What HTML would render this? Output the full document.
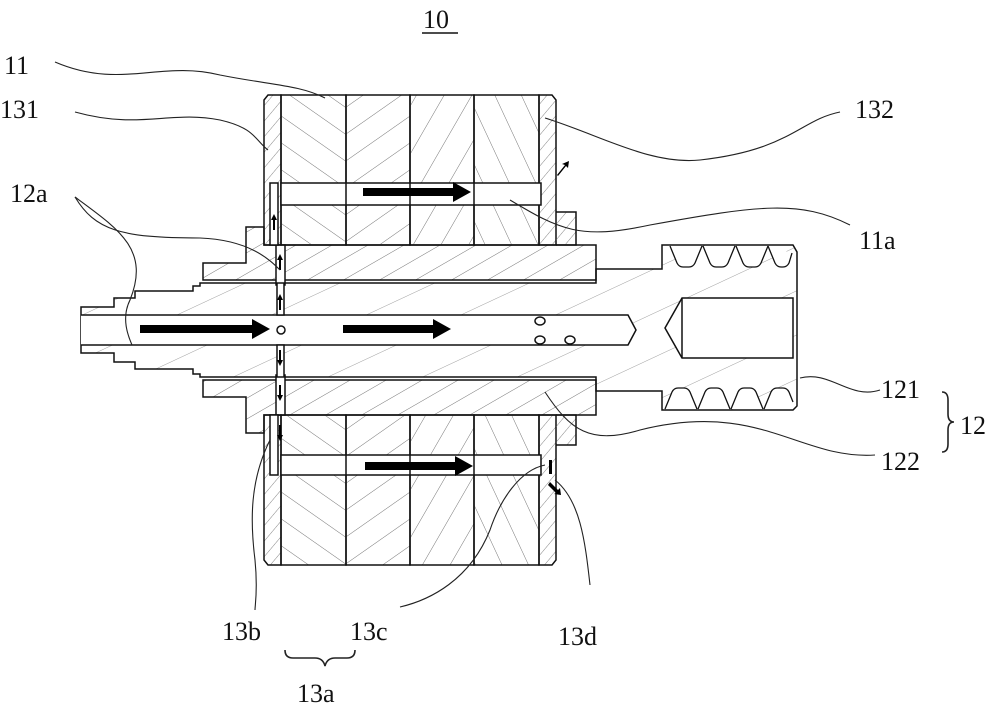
<!DOCTYPE html>
<html><head><meta charset="utf-8"><style>
html,body{margin:0;padding:0;background:#fff;}
svg{display:block}
text{font-family:"Liberation Serif",serif;fill:#111;}
</style></head><body>
<svg width="1000" height="715" viewBox="0 0 1000 715" xmlns="http://www.w3.org/2000/svg">
<defs>
<pattern id="h1" patternUnits="userSpaceOnUse" width="22" height="22" patternTransform="rotate(-55)"><line x1="0" y1="0" x2="0" y2="22" stroke="#666" stroke-width="0.9"/></pattern>
<pattern id="h2" patternUnits="userSpaceOnUse" width="22" height="22" patternTransform="rotate(55)"><line x1="0" y1="0" x2="0" y2="22" stroke="#666" stroke-width="0.9"/></pattern>
<pattern id="h3" patternUnits="userSpaceOnUse" width="24" height="24" patternTransform="rotate(30)"><line x1="0" y1="0" x2="0" y2="24" stroke="#666" stroke-width="0.9"/></pattern>
<pattern id="h4" patternUnits="userSpaceOnUse" width="24" height="24" patternTransform="rotate(-25)"><line x1="0" y1="0" x2="0" y2="24" stroke="#666" stroke-width="0.9"/></pattern>
<pattern id="hs" patternUnits="userSpaceOnUse" width="18" height="18" patternTransform="rotate(60)"><line x1="0" y1="0" x2="0" y2="18" stroke="#666" stroke-width="0.9"/></pattern>
<pattern id="hp" patternUnits="userSpaceOnUse" width="10" height="10" patternTransform="rotate(40)"><line x1="0" y1="0" x2="0" y2="10" stroke="#666" stroke-width="0.8"/></pattern>
<pattern id="hsh" patternUnits="userSpaceOnUse" width="40" height="40" patternTransform="rotate(65)"><line x1="0" y1="0" x2="0" y2="40" stroke="#888" stroke-width="0.8"/></pattern>
</defs>
<g stroke="#111" stroke-width="1.5" fill="none">
<!-- shaft 121 -->
<path d="M81,307 L114,307 L114,298 L135,298 L135,291 L193,291 L193,286 L200,286 L200,283 L596,283 L596,269 L662,269 L662,245 L793,245 L797,252 L797,406 L793,410 L662,410 L662,391 L596,391 L596,377 L200,377 L200,374 L193,374 L193,369 L135,369 L135,362 L114,362 L114,353 L81,353 Z" fill="url(#hsh)"/>
<path d="M81,315 L628,315 L636,330 L628,345 L81,345" fill="#fff"/>
<path d="M682,298 L793,298 L793,358 L682,358 L665,328 Z" fill="#fff"/>
<line x1="682" y1="298" x2="682" y2="358"/>
<g fill="#fff" stroke-width="1.3">
<path d="M670,246 l7,17 q2,4 6,4 h6 q4,0 6,-4 l7,-17"/><path d="M703,246 l7,17 q2,4 6,4 h6 q4,0 6,-4 l7,-17"/><path d="M736,246 l7,17 q2,4 6,4 h6 q4,0 6,-4 l7,-17"/><path d="M768,246 l7,17 q2,4 6,4 h2 q4,0 6,-4 l3,-10"/>
<path d="M665,409 l7,-17 q2,-4 6,-4 h6 q4,0 6,4 l7,17"/><path d="M698,409 l7,-17 q2,-4 6,-4 h6 q4,0 6,4 l7,17"/><path d="M731,409 l7,-17 q2,-4 6,-4 h6 q4,0 6,4 l7,17"/><path d="M764,409 l7,-17 q2,-4 6,-4 h6 q4,0 6,4 l4,10"/>
</g>
<ellipse cx="540" cy="321" rx="5" ry="4" fill="#fff"/><ellipse cx="540" cy="340" rx="5" ry="4" fill="#fff"/><ellipse cx="570" cy="340" rx="5" ry="4" fill="#fff"/>
<circle cx="281" cy="330" r="4" fill="#fff"/>
<!-- sleeve 122 -->
<path d="M203,263 L246,263 L246,227 L264,227 L264,245 L596,245 L596,280 L203,280 Z" fill="url(#hs)"/>
<path d="M203,397 L246,397 L246,433 L264,433 L264,415 L596,415 L596,380 L203,380 Z" fill="url(#hs)"/>
<rect x="276" y="245" width="9" height="40" fill="#fff"/>
<rect x="276" y="375" width="9" height="40" fill="#fff"/>
<rect x="277" y="283" width="7" height="32" fill="#fff"/>
<rect x="277" y="345" width="7" height="32" fill="#fff"/>
<!-- upper stator -->
<path d="M264,100 L268,95 L281,95 L281,245 L264,245 Z" fill="url(#hp)"/>
<rect x="281" y="95" width="65" height="150" fill="url(#h1)"/>
<rect x="346" y="95" width="64" height="150" fill="url(#h2)"/>
<rect x="410" y="95" width="64" height="150" fill="url(#h3)"/>
<rect x="474" y="95" width="65" height="150" fill="url(#h4)"/>
<path d="M539,95 L552,95 L556,100 L556,245 L539,245 Z" fill="url(#hp)"/>
<path d="M556,212 L576,212 L576,245 L556,245" fill="url(#hp)"/>
<rect x="281" y="183" width="260" height="22" fill="#fff"/>
<line x1="346" y1="183" x2="346" y2="205"/><line x1="410" y1="183" x2="410" y2="205"/><line x1="474" y1="183" x2="474" y2="205"/>
<rect x="270" y="183" width="8" height="62" fill="#fff"/>
<!-- lower stator -->
<path d="M264,415 L281,415 L281,565 L268,565 L264,560 Z" fill="url(#hp)"/>
<rect x="281" y="415" width="65" height="150" fill="url(#h1)"/>
<rect x="346" y="415" width="64" height="150" fill="url(#h2)"/>
<rect x="410" y="415" width="64" height="150" fill="url(#h3)"/>
<rect x="474" y="415" width="65" height="150" fill="url(#h4)"/>
<path d="M539,415 L556,415 L556,560 L552,565 L539,565 Z" fill="url(#hp)"/>
<path d="M556,415 L576,415 L576,445 L556,445" fill="url(#hp)"/>
<rect x="281" y="455" width="260" height="20" fill="#fff"/>
<line x1="346" y1="455" x2="346" y2="475"/><line x1="410" y1="455" x2="410" y2="475"/><line x1="474" y1="455" x2="474" y2="475"/>
<rect x="270" y="415" width="8" height="60" fill="#fff"/>
</g>
<g fill="#000">
<path d="M140,325 h112 v-6 l18,10 l-18,10 v-6 h-112 z"/>
<path d="M343,325 h90 v-6 l18,10 l-18,10 v-6 h-90 z"/>
<path d="M363,188 h90 v-6 l18,10 l-18,10 v-6 h-90 z"/>
<path d="M365,462 h90 v-6 l18,10 l-18,10 v-6 h-90 z"/>
<path d="M279,310 v-10 h-2 l3,-6 l3,6 h-2 v10z"/>
<path d="M279,270 v-10 h-2 l3,-6 l3,6 h-2 v10z"/>
<path d="M273,230 v-10 h-2 l3,-6 l3,6 h-2 v10z"/>
<path d="M279,350 v10 h-2 l3,6 l3,-6 h-2 v-10z"/>
<path d="M279,385 v10 h-2 l3,6 l3,-6 h-2 v-10z"/>
<path d="M279,425 v10 h-2 l3,6 l3,-6 h-2 v-10z"/>
<path d="M557,175 l8,-10 l-3,-1 l7,-3 l-1,7 l-2,-2 l-8,10z"/>
<path d="M549,460 v14 h3 v-14z"/>
<path d="M548,485 l8,8 l-2,1 l7,1 l-1,-7 l-2,2 l-8,-8z"/>
</g>
<g stroke="#222" stroke-width="1.1" fill="none">
<path d="M55,62 C120,90 160,60 220,75 C270,85 300,85 325,98"/>
<path d="M75,112 C140,130 170,110 220,120 C255,128 255,140 268,150"/>
<path d="M545,118 C600,135 650,165 700,160 C790,150 800,120 840,112"/>
<path d="M510,200 C560,230 580,240 650,225 C760,205 800,200 850,225"/>
<path d="M75,197 C95,230 120,238 200,238 C250,240 270,260 280,270"/>
<path d="M75,197 C120,230 150,250 130,300 C120,320 130,340 132,345"/>
<path d="M800,378 C830,370 850,400 880,390"/>
<path d="M545,392 C570,430 590,445 640,430 C760,400 800,460 875,455"/>
<path d="M270,440 C250,480 250,520 255,560 C258,590 255,605 255,610"/>
<path d="M545,465 C520,470 500,500 490,530 C470,580 430,600 400,607"/>
<path d="M555,480 C580,500 585,540 590,585"/>
<path d="M285,650 q0,8 8,8 h22 q8,0 10,8 q2,-8 10,-8 h12 q8,0 8,-8" stroke-width="1.6"/>
<path d="M942,392 q6,0 6,8 v14 q0,8 6,8 q-6,0 -6,8 v14 q0,8 -6,8" stroke-width="1.6"/>
</g>
<g font-size="26">
<text x="423" y="28">10</text>
<line x1="422" y1="33" x2="458" y2="33" stroke="#111" stroke-width="1.5"/>
<text x="4" y="74">11</text>
<text x="0" y="118">131</text>
<text x="10" y="202">12a</text>
<text x="855" y="118">132</text>
<text x="859" y="249">11a</text>
<text x="881" y="398">121</text>
<text x="960" y="434">12</text>
<text x="881" y="470">122</text>
<text x="222" y="640">13b</text>
<text x="350" y="640">13c</text>
<text x="558" y="645">13d</text>
<text x="297" y="702">13a</text>
</g>
</svg>
</body></html>
